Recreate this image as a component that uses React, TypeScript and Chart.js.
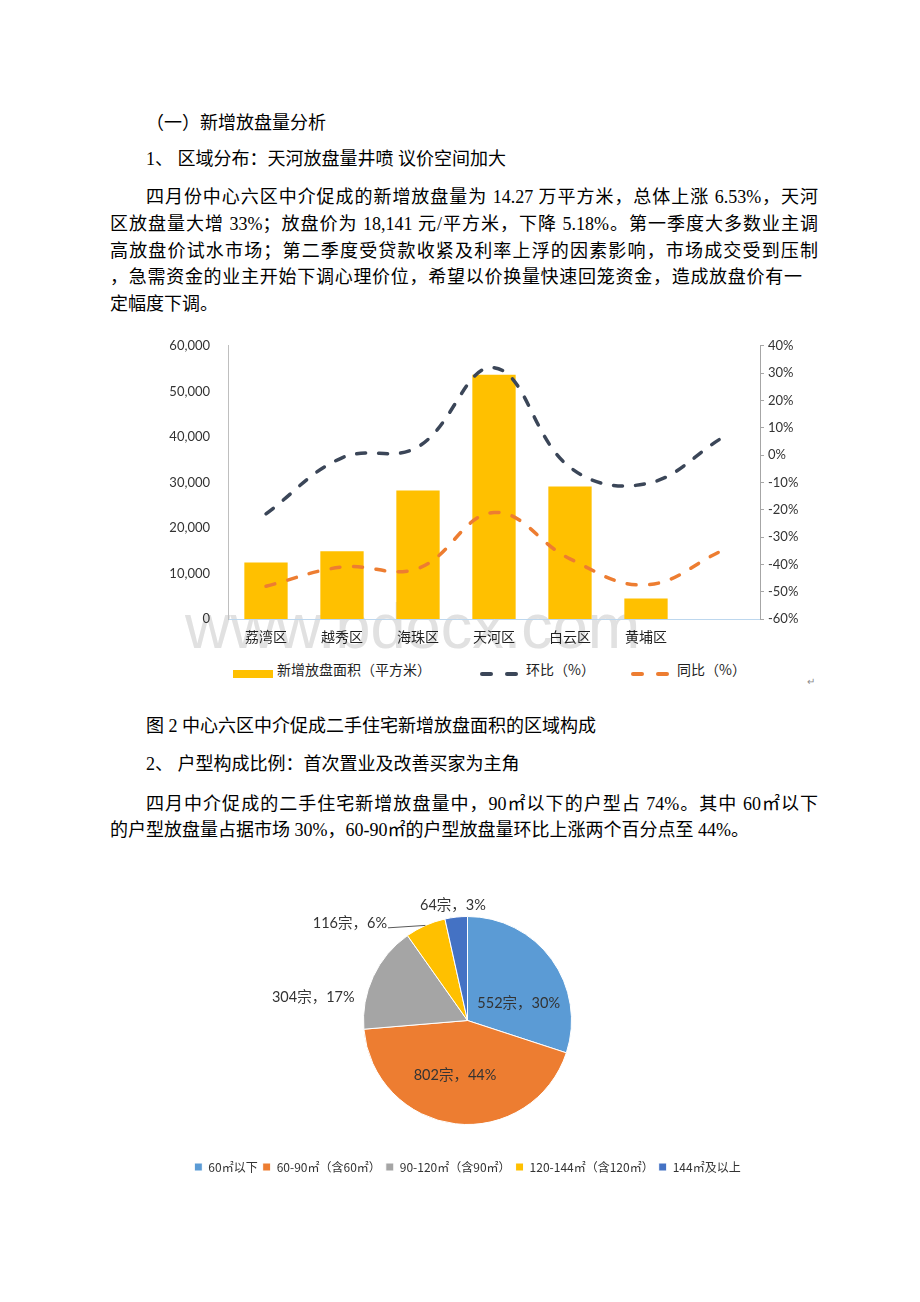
import React, { useEffect, useRef } from 'react';
import { Chart, registerables } from 'chart.js';

Chart.register(...registerables);

// ---------------- data ----------------
const districts = ['荔湾区', '越秀区', '海珠区', '天河区', '白云区', '黄埔区', ''];
const newListingArea = [12400, 14900, 28200, 53650, 29100, 4500, null];
const momPercent = [-21.5, -1, 3, 32, -4.5, -10.5, 6.3];
const yoyPercent = [-48, -41, -41.5, -21, -38, -47.5, -35];
const areaAxisTicks = [0, 10000, 20000, 30000, 40000, 50000, 60000];
const percentAxisTicks = [-60, -50, -40, -30, -20, -10, 0, 10, 20, 30, 40];
const seriesNames = ['新增放盘面积（平方米）', '环比（%）', '同比（%）'];

const unitTypes = ['60㎡以下', '60-90㎡（含60㎡）', '90-120㎡（含90㎡）', '120-144㎡（含120㎡）', '144㎡及以上'];
const unitCounts = [552, 802, 304, 116, 64];

// ---------------- styles ----------------
const BAR_COLOR = '#ffc000';
const MOM_COLOR = '#3b4658';
const YOY_COLOR = '#ed7d31';
const PIE_COLORS = ['#5b9bd5', '#ed7d31', '#a5a5a5', '#ffc000', '#4472c4'];
// label placement for pie: [angle offset from slice middle (deg), radius factor]
const pieLabelOffsets = [
  [17.1, 0.52],
  [6.2, 0.54],
  [-16.4, 1.5],
  [-26.4, 1.47],
  [-0.9, 1.12],
];
const pieLeaderIndex = 3;

const SANS = 'Lato, "Noto Sans CJK SC", sans-serif';
const CJK = '"Noto Sans CJK SC", sans-serif';
const BODY = '"Liberation Serif", "Noto Sans CJK SC", serif';

function TextLine(props: { x: number; y: number; w?: number; justify?: boolean; size?: number; children: any }) {
  const { x, y, w, justify, size = 18, children } = props;
  return (
    <div
      style={{
        position: 'absolute',
        left: x - 8,
        top: y - 8 - 11.5,
        width: w ?? 760,
        height: 24,
        lineHeight: '24px',
        fontSize: size,
        fontFamily: BODY,
        color: '#000',
        textAlign: justify ? 'justify' : 'left',
        textAlignLast: justify ? 'justify' : 'auto',
      } as any}
    >
      {children}
    </div>
  );
}

function BarLineChart() {
  const ref = useRef<HTMLCanvasElement>(null);
  useEffect(() => {
    const tickFont = { family: SANS, size: 13 };
    const chart = new Chart(ref.current!, {
      type: 'bar',
      data: {
        labels: districts,
        datasets: [
          {
            type: 'line',
            label: seriesNames[1],
            data: momPercent,
            yAxisID: 'y1',
            borderColor: MOM_COLOR,
            borderWidth: 3.5,
            borderDash: [9, 13],
            borderCapStyle: 'round',
            tension: 0.4,
            pointRadius: 0,
            fill: false,
            order: 0,
          } as any,
          {
            type: 'line',
            label: seriesNames[2],
            data: yoyPercent,
            yAxisID: 'y1',
            borderColor: YOY_COLOR,
            borderWidth: 3.5,
            borderDash: [9, 13.5],
            borderCapStyle: 'round',
            tension: 0.4,
            pointRadius: 0,
            fill: false,
            order: 1,
          } as any,
          {
            type: 'bar',
            label: seriesNames[0],
            data: newListingArea,
            yAxisID: 'y',
            backgroundColor: BAR_COLOR,
            barPercentage: 0.57,
            categoryPercentage: 1,
            order: 2,
          } as any,
        ],
      },
      options: {
        animation: false,
        responsive: true,
        maintainAspectRatio: false,
        layout: { padding: { top: 0, left: 0, right: 0, bottom: 0 } },
        plugins: { legend: { display: false }, tooltip: { enabled: false } },
        scales: {
          x: {
            grid: { display: false, drawTicks: false },
            border: { display: true, color: '#bdd7ee', width: 1 },
            ticks: { font: { family: CJK, size: 14 }, color: '#1f1f1f', padding: 9, maxRotation: 0, autoSkip: false },
            afterFit: (s: any) => { s.height = 36; },
          },
          y: {
            position: 'left',
            min: areaAxisTicks[0],
            max: areaAxisTicks[areaAxisTicks.length - 1],
            afterBuildTicks: (s: any) => { s.ticks = areaAxisTicks.map((v) => ({ value: v })); },
            ticks: {
              font: tickFont,
              color: '#333333',
              padding: 18,
              callback: (v: any) => Number(v).toLocaleString('en-US'),
            },
            grid: { display: false, drawTicks: false },
            border: { display: true, color: '#bfbfbf', width: 1 },
            afterFit: (s: any) => { s.width = 78; },
          },
          y1: {
            position: 'right',
            min: percentAxisTicks[0],
            max: percentAxisTicks[percentAxisTicks.length - 1],
            afterBuildTicks: (s: any) => { s.ticks = percentAxisTicks.map((v) => ({ value: v })); },
            ticks: {
              font: tickFont,
              color: '#333333',
              padding: 4,
              callback: (v: any) => v + '%',
            },
            grid: { display: true, drawOnChartArea: false, drawTicks: true, tickLength: 4, color: '#a6a6a6' },
            border: { display: true, color: '#a6a6a6', width: 1 },
            afterFit: (s: any) => { s.width = 60; },
          },
        },
      } as any,
    });
    return () => chart.destroy();
  }, []);
  return (
    <div style={{ position: 'absolute', left: 150 - 8, top: 320 - 8, width: 670, height: 335 }}>
      <canvas ref={ref} />
    </div>
  );
}

const pieLabelPlugin = {
  id: 'pieLabels',
  afterDatasetsDraw(chart: any) {
    const ctx = chart.ctx;
    const meta = chart.getDatasetMeta(0);
    const values = chart.data.datasets[0].data as number[];
    const total = values.reduce((a, b) => a + b, 0);
    ctx.save();
    ctx.font = '14.5px ' + SANS;
    ctx.fillStyle = '#333333';
    ctx.textAlign = 'center';
    ctx.textBaseline = 'middle';
    meta.data.forEach((arc: any, i: number) => {
      const p = arc.getProps(['x', 'y', 'startAngle', 'endAngle', 'outerRadius'], true);
      const mid = (p.startAngle + p.endAngle) / 2;
      const [off, rf] = pieLabelOffsets[i];
      const a = mid + (off * Math.PI) / 180;
      const lx = p.x + Math.cos(a) * p.outerRadius * rf;
      const ly = p.y + Math.sin(a) * p.outerRadius * rf;
      const text = `${values[i]}宗，${Math.round((values[i] / total) * 100)}%`;
      ctx.fillText(text, lx, ly);
      if (i === pieLeaderIndex) {
        const w = ctx.measureText(text).width;
        ctx.strokeStyle = '#595959';
        ctx.lineWidth = 1;
        ctx.beginPath();
        ctx.moveTo(lx + w / 2 + 1, ly + 5);
        ctx.lineTo(p.x + Math.cos(mid) * p.outerRadius, p.y + Math.sin(mid) * p.outerRadius);
        ctx.stroke();
      }
    });
    ctx.restore();
  },
};

function PieChart() {
  const ref = useRef<HTMLCanvasElement>(null);
  useEffect(() => {
    const chart = new Chart(ref.current!, {
      type: 'pie',
      data: {
        labels: unitTypes,
        datasets: [
          {
            data: unitCounts,
            backgroundColor: PIE_COLORS,
            borderColor: '#ffffff',
            borderWidth: 1,
            radius: 104,
          } as any,
        ],
      },
      options: {
        animation: false,
        responsive: true,
        maintainAspectRatio: false,
        radius: 104,
        layout: { padding: { top: 15, bottom: 0, left: 0, right: 0 } },
        plugins: {
          tooltip: { enabled: false },
          legend: {
            position: 'bottom',
            labels: {
              boxWidth: 8,
              boxHeight: 8,
              padding: 5,
              color: '#333333',
              font: { family: CJK, size: 12 },
            },
          },
        },
      } as any,
      plugins: [pieLabelPlugin],
    });
    return () => chart.destroy();
  }, []);
  return (
    <div style={{ position: 'absolute', left: 120 - 8, top: 870 - 8, width: 695, height: 313 }}>
      <canvas ref={ref} />
    </div>
  );
}

function Dash(props: { x: number; y: number; color: string }) {
  return (
    <div
      style={{
        position: 'absolute',
        left: props.x - 8,
        top: props.y - 8 - 2,
        width: 13,
        height: 4,
        borderRadius: 2,
        background: props.color,
      }}
    />
  );
}

function LegendText(props: { x: number; y: number; children: any }) {
  return (
    <div
      style={{
        position: 'absolute',
        left: props.x - 8,
        top: props.y - 8 - 10,
        height: 20,
        lineHeight: '20px',
        fontSize: 14,
        fontFamily: CJK,
        color: '#1f1f1f',
        whiteSpace: 'nowrap',
      }}
    >
      {props.children}
    </div>
  );
}

export default function App() {
  return (
    <div style={{ position: 'relative', width: 904, height: 1286, background: '#fff' }}>
      <TextLine x={146} y={122}>（一）新增放盘量分析</TextLine>
      <TextLine x={146} y={158}>1、 区域分布：天河放盘量井喷 议价空间加大</TextLine>
      <TextLine x={146} y={196} w={672} justify>
        四月份中心六区中介促成的新增放盘量为 14.27 万平方米，总体上涨 6.53%，天河
      </TextLine>
      <TextLine x={110} y={223} w={708} justify>
        区放盘量大增 33%；放盘价为 18,141 元/平方米，下降 5.18%。第一季度大多数业主调
      </TextLine>
      <TextLine x={110} y={250} w={708} justify>
        高放盘价试水市场；第二季度受贷款收紧及利率上浮的因素影响，市场成交受到压制
      </TextLine>
      <TextLine x={110} y={276} w={692} justify>
        ，急需资金的业主开始下调心理价位，希望以价换量快速回笼资金，造成放盘价有一
      </TextLine>
      <TextLine x={110} y={303}>定幅度下调。</TextLine>

      {/* watermark */}
      <div
        style={{
          position: 'absolute',
          left: 185 - 8,
          top: 590 - 8,
          fontSize: 63,
          lineHeight: '72px',
          fontFamily: '"Liberation Sans", Arial, sans-serif',
          color: '#e1e1e1',
          whiteSpace: 'nowrap',
        }}
      >
        www.bdocx.com
      </div>

      <BarLineChart />

      {/* legend of chart 1 */}
      <div style={{ position: 'absolute', left: 233 - 8, top: 670 - 8, width: 40, height: 8, background: BAR_COLOR }} />
      <LegendText x={277} y={669}>{seriesNames[0]}</LegendText>
      <Dash x={480} y={674} color={MOM_COLOR} />
      <Dash x={505} y={674} color={MOM_COLOR} />
      <LegendText x={526} y={669}>{seriesNames[1]}</LegendText>
      <Dash x={631} y={674} color={YOY_COLOR} />
      <Dash x={656} y={674} color={YOY_COLOR} />
      <LegendText x={677} y={669}>{seriesNames[2]}</LegendText>
      <div style={{ position: 'absolute', left: 807 - 8, top: 673 - 8, fontSize: 10, color: '#8c8c8c', fontFamily: CJK }}>↵</div>

      <TextLine x={146} y={725}>图 2 中心六区中介促成二手住宅新增放盘面积的区域构成</TextLine>
      <TextLine x={146} y={763}>2、 户型构成比例：首次置业及改善买家为主角</TextLine>
      <TextLine x={146} y={803} w={672} justify>
        四月中介促成的二手住宅新增放盘量中，90㎡以下的户型占 74%。其中 60㎡以下
      </TextLine>
      <TextLine x={110} y={829}>的户型放盘量占据市场 30%，60-90㎡的户型放盘量环比上涨两个百分点至 44%。</TextLine>

      <PieChart />
    </div>
  );
}
